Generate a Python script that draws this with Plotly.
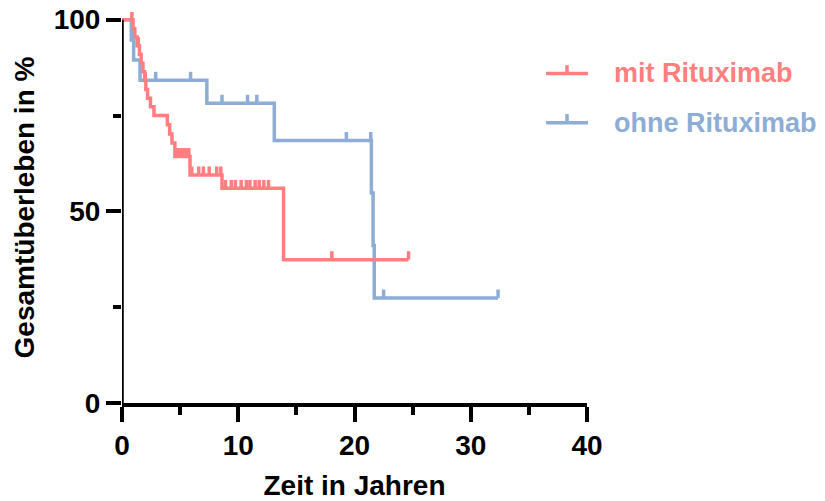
import plotly.graph_objects as go

# Overall survival (Kaplan-Meier) in years, two treatment groups
# Event times (years) and survival (%) right after each event
mit_event_t = [0.95, 1.1, 1.3, 1.5, 1.65, 1.8, 1.95, 2.05, 2.2, 2.45, 2.75,
               3.9, 4.1, 4.3, 4.55, 5.85, 8.6, 13.9]
mit_event_s = [97.7, 95.5, 93.2, 90.9, 88.6, 86.4, 84.1, 81.8, 79.5, 77.3, 75.0,
               72.6, 70.2, 67.8, 64.3, 59.5, 56.0, 37.4]
# Censored observations (years)
mit_censor_t = [0.85, 1.4, 2.0, 4.75, 4.95, 5.15, 5.35, 5.55, 5.75,
                6.0, 6.6, 7.0, 7.5, 8.15, 8.5,
                8.9, 9.4, 9.75, 10.25, 10.7, 11.0, 11.45, 11.8, 12.2, 12.6,
                18.05, 24.65]

ohne_event_t = [0.8, 1.0, 1.55, 7.3, 13.1, 21.45, 21.6, 21.7]
ohne_event_s = [94.7, 89.5, 84.2, 78.2, 68.5, 54.8, 41.1, 27.4]
ohne_censor_t = [2.9, 5.9, 8.6, 10.8, 11.6, 19.3, 21.4, 22.5, 32.35]

group_names = ["mit Rituximab", "ohne Rituximab"]
group_colors = ["#FF7F80", "#8DADD6"]

x_ticks = [0, 10, 20, 30, 40]
y_ticks = [0, 50, 100]

FONT = "Liberation Sans, Arial, Helvetica, sans-serif"
CURVE_W = 3.5
AXIS_W = 3.5
TICK_UP = 2.2  # height of censor marks, in % units


def step_path(event_t, event_s, censor_t):
    """Step-function vertices starting at 100 % and ending at the last observation."""
    xs = [0.0] + list(event_t)
    ys = [100.0] + list(event_s)
    last = max(max(censor_t), max(event_t))
    xs.append(last)
    ys.append(ys[-1])
    return xs, ys


def survival_at(t, event_t, event_s):
    s = 100.0
    for et, es in zip(event_t, event_s):
        if et <= t:
            s = es
    return s


def censor_marks(censor_t, event_t, event_s):
    xs, ys = [], []
    for t in censor_t:
        s = survival_at(t, event_t, event_s)
        xs += [t, t, None]
        ys += [s, s + TICK_UP, None]
    return xs, ys


groups = [
    (ohne_event_t, ohne_event_s, ohne_censor_t, group_names[1], group_colors[1]),
    (mit_event_t, mit_event_s, mit_censor_t, group_names[0], group_colors[0]),
]

fig = go.Figure()
for ev_t, ev_s, c_t, name, color in groups:
    sx, sy = step_path(ev_t, ev_s, c_t)
    fig.add_trace(go.Scatter(
        x=sx, y=sy, mode="lines", name=name, line_shape="hv",
        line=dict(color=color, width=CURVE_W), showlegend=False,
        hoverinfo="skip"))
    cx, cy = censor_marks(c_t, ev_t, ev_s)
    fig.add_trace(go.Scatter(
        x=cx, y=cy, mode="lines", name=name + " (zensiert)",
        line=dict(color=color, width=CURVE_W), showlegend=False,
        hoverinfo="skip"))

# Left axis line drawn from 0 to 100 %
fig.add_shape(type="line", xref="x", yref="y", x0=0, x1=0, y0=0, y1=100,
              line=dict(color="black", width=AXIS_W), layer="above")

# Legend: line sample with censor mark, coloured label
legend_rows = [(0.843, 0.864), (0.717, 0.739)]
for (y_line, y_tick), name, color in zip(legend_rows, group_names, group_colors):
    fig.add_shape(type="line", xref="paper", yref="paper",
                  x0=0.912, x1=1.002, y0=y_line, y1=y_line,
                  line=dict(color=color, width=CURVE_W))
    fig.add_shape(type="line", xref="paper", yref="paper",
                  x0=0.957, x1=0.957, y0=y_line, y1=y_tick,
                  line=dict(color=color, width=CURVE_W))
    fig.add_annotation(xref="paper", yref="paper", x=1.054, y=y_line,
                       xanchor="left", yanchor="middle", showarrow=False,
                       text=name,
                       font=dict(family=FONT, size=27, color=color, weight="bold"))

axis_font = dict(family=FONT, size=28, color="black", weight="bold")

fig.update_layout(
    width=825, height=501,
    margin=dict(l=122, r=238, t=12, b=98),
    paper_bgcolor="white", plot_bgcolor="white",
    showlegend=False,
    xaxis=dict(
        range=[0, 40], tickvals=x_ticks, ticktext=[str(v) for v in x_ticks],
        automargin=False,
        showgrid=False, zeroline=False, showline=True, linecolor="black",
        linewidth=AXIS_W, ticks="outside", ticklen=15, tickwidth=AXIS_W,
        tickcolor="black", tickfont=axis_font,
        minor=dict(ticks="outside", ticklen=8, tickwidth=AXIS_W,
                   tickcolor="black", dtick=5, showgrid=False),
        title=dict(text="Zeit in Jahren", font=axis_font, standoff=20),
    ),
    yaxis=dict(
        range=[0, 102], tickvals=y_ticks, ticktext=[str(v) for v in y_ticks],
        automargin=False,
        showgrid=False, zeroline=False, showline=False,
        ticks="outside", ticklen=15, tickwidth=AXIS_W,
        tickcolor="black", tickfont=axis_font,
        minor=dict(ticks="outside", ticklen=8, tickwidth=AXIS_W,
                   tickcolor="black", tickvals=[25, 75], showgrid=False),
        title=dict(text="Gesamtüberleben in %", font=axis_font, standoff=10),
    ),
)

fig.write_html("out.html")
